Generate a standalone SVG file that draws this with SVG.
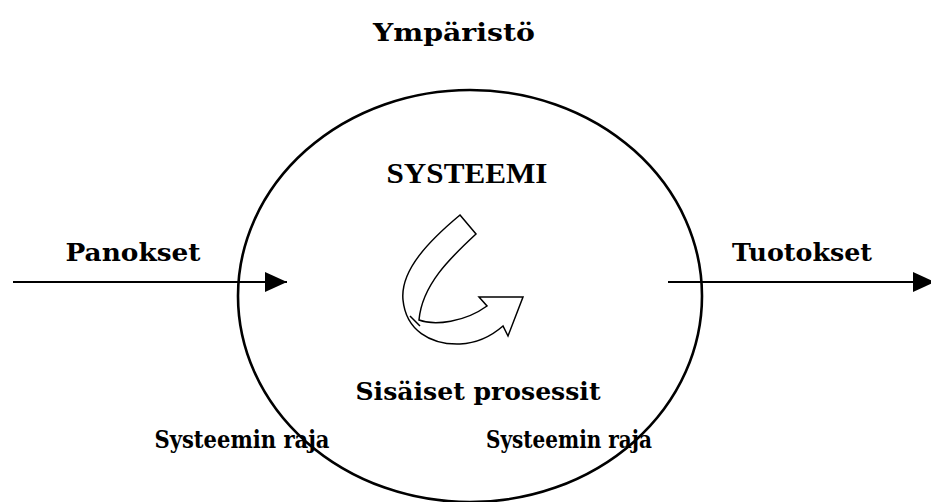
<svg xmlns="http://www.w3.org/2000/svg" width="931" height="502" viewBox="0 0 931 502">
<defs>
<style>
.t{font-family:"DejaVu Serif","Liberation Serif",serif;font-weight:bold;font-size:24px;fill:#000;text-anchor:middle}
.c{font-family:"Liberation Serif",serif;font-weight:bold;font-size:30px;fill:#000;text-anchor:middle}
.ln{stroke:#000;stroke-width:2;fill:none}
</style>
<marker id="ah" viewBox="0 0 22 20" refX="22" refY="10" markerWidth="22" markerHeight="20" markerUnits="userSpaceOnUse" orient="auto">
<path d="M0,0 L22,10 L0,20 Z" fill="#000"/>
</marker>
</defs>
<rect width="931" height="502" fill="#fff"/>
<g id="env"><text class="t" x="454" y="41" textLength="162" lengthAdjust="spacingAndGlyphs">Ympäristö</text></g>
<g id="inputs"><text class="t" x="133" y="261" textLength="135" lengthAdjust="spacingAndGlyphs">Panokset</text></g>
<g id="outputs"><text class="t" x="802" y="261" textLength="140" lengthAdjust="spacingAndGlyphs">Tuotokset</text></g>
<g id="boundary-left"><text class="t" x="242" y="448" textLength="175" lengthAdjust="spacingAndGlyphs">Systeemin raja</text></g>
<g id="boundary-right"><text class="t" x="569" y="448" textLength="166" lengthAdjust="spacingAndGlyphs">Systeemin raja</text></g>
<g id="system">
<ellipse cx="470" cy="296" rx="232" ry="206" fill="none" stroke="#000" stroke-width="2.6"/>
<text class="c" x="467" y="183" textLength="161" lengthAdjust="spacingAndGlyphs">SYSTEEMI</text>
<text class="t" x="478" y="400" textLength="245" lengthAdjust="spacingAndGlyphs">Sisäiset prosessit</text>
<path d="M460,215 L476,234 C450,258 422,285 419,320 C435,326 465,322 487,306 L479,297 L523,297 L508,336 L503,326 C495,333 480,343 460,344 C430,345 406,330 403,300 C400,270 430,240 460,215 Z" fill="#fff" stroke="#000" stroke-width="1.5" stroke-linejoin="miter"/>
<path d="M410,316 L420,326" fill="none" stroke="#000" stroke-width="1.5"/>
</g>
<g id="connectors">
<line class="ln" x1="13" y1="282" x2="287" y2="282" marker-end="url(#ah)"/>
<line class="ln" x1="668" y1="282" x2="935" y2="282" marker-end="url(#ah)"/>
</g>
</svg>
